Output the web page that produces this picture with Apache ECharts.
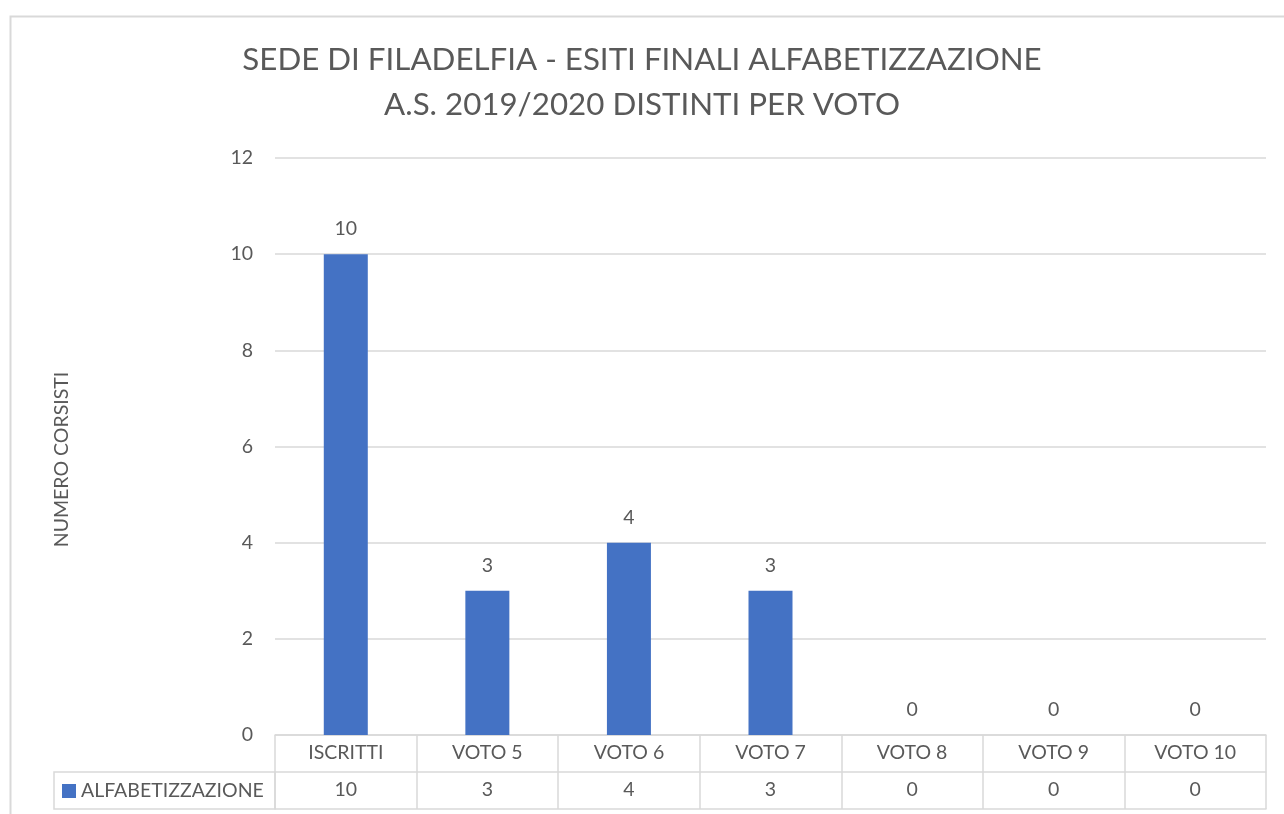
<!DOCTYPE html>
<html><head><meta charset="utf-8">
<script src="https://cdn.jsdelivr.net/npm/echarts@6/dist/echarts.min.js"></script>
<style>html,body{margin:0;padding:0;background:#fff}#c{width:1284px;height:814px}</style>
</head><body><div id="c"></div>
<script>
const titleLines = ['SEDE DI FILADELFIA - ESITI FINALI ALFABETIZZAZIONE', 'A.S. 2019/2020 DISTINTI PER VOTO'];
const categories = ['ISCRITTI', 'VOTO 5', 'VOTO 6', 'VOTO 7', 'VOTO 8', 'VOTO 9', 'VOTO 10'];
const seriesName = 'ALFABETIZZAZIONE';
const values = [10, 3, 4, 3, 0, 0, 0];
const yAxisName = 'NUMERO CORSISTI';
const yMin = 0, yMax = 12, yStep = 2;

const FONT = 'Lato';
const TXT = '#595959';
const LINE = '#d9d9d9';
const FS = 19.5;
const G = {left: 275, right: 18, top: 158, bottom: 79};
const W = 1284, H = 814;
const ROW = 37;

const chart = echarts.init(document.getElementById('c'), null, {renderer: 'canvas'});
const option = {
  backgroundColor: '#fff',
  animation: false,
  textStyle: {fontFamily: FONT, color: TXT},
  title: {
    text: titleLines.join('\n'),
    left: 'center', top: 32,
    textStyle: {fontFamily: FONT, fontSize: 31.3, fontWeight: 'normal', color: TXT, lineHeight: 45}
  },
  grid: {left: G.left, right: G.right, top: G.top, bottom: G.bottom, containLabel: false},
  xAxis: [{
    type: 'category', data: categories, position: 'bottom',
    axisLine: {show: true, lineStyle: {color: LINE, width: 1.5}},
    axisTick: {show: true, interval: 0, length: ROW * 2, lineStyle: {color: LINE, width: 1.5}},
    axisLabel: {interval: 0, margin: 8, fontSize: FS, color: TXT, fontFamily: FONT}
  }, {
    type: 'category', data: values.map(String), position: 'bottom', offset: ROW,
    axisLine: {show: true, lineStyle: {color: LINE, width: 1.5}},
    axisTick: {show: false},
    axisLabel: {interval: 0, margin: 8, fontSize: FS, color: TXT, fontFamily: FONT}
  }, {
    type: 'category', data: categories, position: 'bottom', offset: ROW * 2,
    axisLine: {show: true, lineStyle: {color: LINE, width: 1.5}},
    axisTick: {show: false}, axisLabel: {show: false}
  }],
  yAxis: {
    type: 'value', min: yMin, max: yMax, interval: yStep,
    name: yAxisName, nameLocation: 'middle', nameRotate: 90, nameGap: 203,
    nameTextStyle: {fontSize: FS, color: TXT, fontFamily: FONT, padding: [0, 26, 0, 0]},
    axisLine: {show: false}, axisTick: {show: false},
    axisLabel: {margin: 22, fontSize: FS, color: TXT, fontFamily: FONT},
    splitLine: {lineStyle: {color: LINE, width: 1.5}}
  },
  series: [{
    name: seriesName, type: 'bar', data: values, barWidth: 44,
    itemStyle: {color: '#4472C4'},
    label: {show: true, position: 'top', distance: 15, fontSize: FS, color: TXT, fontFamily: FONT}
  }],
  graphic: [
    {type: 'rect', left: 8, top: 14, shape: {x: 0, y: 0, width: 1400, height: 900}, style: {fill: 'none', stroke: LINE, lineWidth: 2}, z: -1, silent: true},
    {type: 'rect', shape: {x: 54, y: H - G.bottom + ROW, width: G.left - 54, height: ROW}, style: {fill: 'none', stroke: LINE, lineWidth: 1.5}},
    {type: 'rect', shape: {x: 62, y: H - G.bottom + ROW + 12, width: 14, height: 14}, style: {fill: '#4472C4'}},
    {type: 'text', x: 81, y: H - G.bottom + ROW + ROW / 2, style: {text: seriesName, fontSize: FS, fontFamily: FONT, fill: TXT, verticalAlign: 'middle'}}
  ]
};
chart.setOption(option);
</script></body></html>
